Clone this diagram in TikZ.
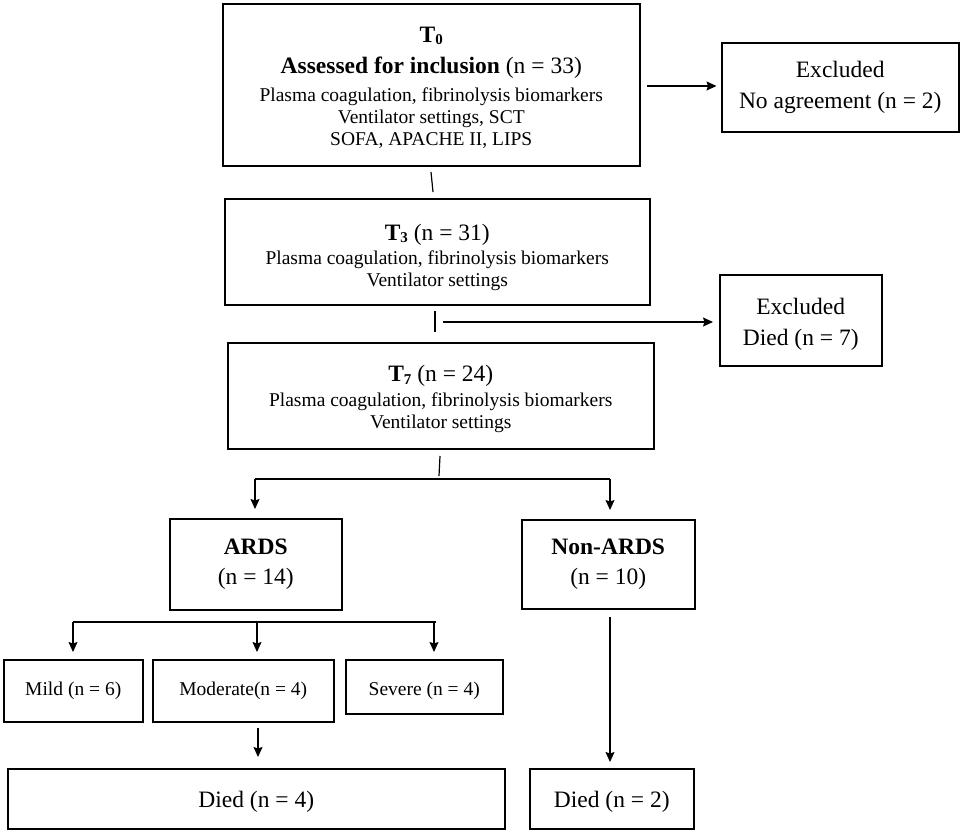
\documentclass[tikz,border=0pt]{standalone}
\usepackage{fontspec}
\setmainfont{Liberation Serif}
\usetikzlibrary{arrows.meta}
\newcommand{\bigf}{\fontsize{23.5}{29.5}\selectfont}
\newcommand{\smf}{\fontsize{19.5}{22}\selectfont}
\newcommand{\tsub}[1]{\raisebox{-0.12em}{\fontsize{15}{15}\selectfont #1}}
\newcommand{\lift}[1]{\rule{0pt}{#1}}
\begin{document}
\begin{tikzpicture}[x=1pt,y=-1pt,
  box/.style={draw, line width=1.5pt, inner sep=0pt, align=center, anchor=north west},
  arr/.style={line width=1.2pt, -{Stealth[length=10pt,width=9pt,inset=1.5pt]}},
  ln/.style={line width=1.2pt}]
\useasboundingbox (0,0) rectangle (965,833);
% boxes
\node[box, font=\smf, minimum width=417pt, minimum height=162pt] (t0) at (222,3)
  {\lift{20.6pt}{\bigf\bfseries T\tsub{0}}\\[9.5pt]
   {\bigf\textbf{Assessed for inclusion} (n = 33)}\\[5.5pt]
   Plasma coagulation, fibrinolysis biomarkers\\
   Ventilator settings, SCT\\
   SOFA, APACHE II, LIPS};
\node[box, font=\bigf, minimum width=237pt, minimum height=89pt] (ex1) at (721,42)
  {Excluded\\[1.5pt] No agreement (n = 2)};
\node[box, font=\smf, minimum width=425pt, minimum height=106pt] (t3) at (224,198)
  {\lift{27.3pt}{\bigf\textbf{T\tsub{3}} (n = 31)}\\[2.5pt]
   Plasma coagulation, fibrinolysis biomarkers\\
   Ventilator settings};
\node[box, font=\bigf, minimum width=162pt, minimum height=91pt] (ex2) at (719,274)
  {\lift{24.3pt}Excluded\\[1.5pt] Died (n = 7)};
\node[box, font=\smf, minimum width=426pt, minimum height=106pt] (t7) at (227,342)
  {\lift{22.3pt}{\bigf\textbf{T\tsub{7}} (n = 24)}\\[3pt]
   Plasma coagulation, fibrinolysis biomarkers\\
   Ventilator settings};
\node[box, font=\bigf, minimum width=172pt, minimum height=91pt] (ards) at (169,518)
  {\textbf{ARDS}\\(n = 14)};
\node[box, font=\bigf, minimum width=173pt, minimum height=89pt] (nonards) at (521,519)
  {\textbf{Non-ARDS}\\(n = 10)};
\node[box, font=\smf, minimum width=139pt, minimum height=62pt] (mild) at (3,659)
  {Mild (n = 6)};
\node[box, font=\smf, minimum width=181pt, minimum height=62pt] (mod) at (152,659)
  {Moderate(n = 4)};
\node[box, font=\smf, minimum width=157pt, minimum height=54pt] (sev) at (345,659)
  {\lift{21.5pt}Severe (n = 4)};
\node[box, font=\bigf, minimum width=497pt, minimum height=60pt] (died1) at (7,768)
  {\lift{23.3pt}Died (n = 4)};
\node[box, font=\bigf, minimum width=164pt, minimum height=60pt] (died2) at (529,768)
  {\lift{23.3pt}Died (n = 2)};
% connectors
\coordinate (k1a) at (431,172); \coordinate (k1b) at (433,192);
\draw[ln] (k1a) -- (k1b);
\coordinate (a1s) at (647,86);
\draw[arr, shorten >=4.5pt] (a1s) -- (ex1.west |- a1s);
\coordinate (k2a) at (435,311); \coordinate (k2b) at (435,332);
\draw[ln] (k2a) -- (k2b);
\coordinate (a2s) at (443,322);
\draw[arr, shorten >=6pt] (a2s) -- (ex2.west |- a2s);
\coordinate (k3a) at (440,456); \coordinate (k3b) at (439,476);
\draw[ln] (k3a) -- (k3b);
\coordinate (b1l) at (255,479); \coordinate (b1r) at (610,479);
\draw[ln] (b1l) -- (b1r);
\draw[arr, shorten >=9pt] (b1l) -- (b1l |- ards.north);
\draw[arr, shorten >=9pt] (b1r) -- (b1r |- nonards.north);
\coordinate (b2a) at (73,622); \coordinate (b2b) at (257,622); \coordinate (b2c) at (434,622);
\draw[ln] (b2a) -- ([xshift=2pt]b2c);
\draw[arr, shorten >=7pt] (b2a) -- (b2a |- mild.north);
\draw[arr, shorten >=7pt] (b2b) -- (b2b |- mod.north);
\draw[arr, shorten >=7pt] (b2c) -- (b2c |- sev.north);
\coordinate (m1) at (258,728);
\draw[arr, shorten >=11pt] (m1) -- (m1 |- died1.north);
\coordinate (n1) at (610,617);
\draw[arr, shorten >=6pt] (n1) -- (n1 |- died2.north);
\end{tikzpicture}
\end{document}
